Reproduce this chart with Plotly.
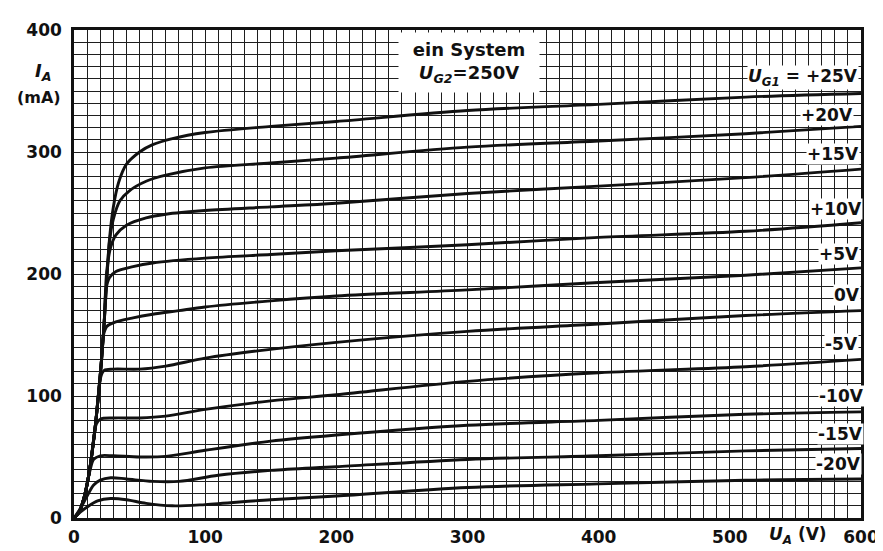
import plotly.graph_objects as go

# Grid voltages (labels) and anode characteristic curves: U_A (V) -> I_A (mA)
labels = ["U<sub>G1</sub> = +25V", "+20V", "+15V", "+10V", "+5V", "0V", "-5V", "-10V", "-15V", "-20V"]

ua_p25 = [0, 4, 8, 12, 16, 19, 21, 23, 25, 27, 30, 34, 40, 50, 60, 75, 100, 150, 200, 300, 400, 512, 600]
ia_p25 = [0, 5, 18, 40, 73, 105, 130, 160, 195, 228, 255, 275, 290, 300, 306, 311, 316, 321, 325, 334, 339, 345, 348]

ua_p20 = [0, 4, 8, 12, 16, 19, 21, 23, 25, 27, 30, 35, 42, 55, 70, 100, 150, 200, 300, 400, 512, 600]
ia_p20 = [0, 5, 18, 40, 73, 105, 130, 160, 195, 226, 245, 260, 268, 276, 281, 287, 291, 295, 304, 309, 315, 321]

ua_p15 = [0, 4, 8, 12, 16, 19, 21, 23, 25, 28, 32, 40, 55, 70, 100, 150, 200, 300, 400, 512, 600]
ia_p15 = [0, 5, 18, 40, 73, 105, 130, 160, 203, 222, 232, 240, 246, 249, 252, 255, 258, 266, 272, 279, 286]

ua_p10 = [0, 4, 8, 12, 16, 19, 21, 23, 24.5, 27, 32, 45, 60, 100, 150, 200, 300, 400, 512, 600]
ia_p10 = [0, 5, 18, 40, 73, 105, 130, 160, 188, 197, 202, 206, 209, 213, 216, 219, 224, 230, 235, 242]

ua_p5 = [0, 4, 8, 12, 16, 19, 21, 22.5, 25, 30, 45, 60, 80, 100, 150, 200, 300, 400, 512, 600]
ia_p5 = [0, 5, 18, 40, 73, 105, 130, 150, 157, 160, 164, 167, 170, 173, 178, 182, 187, 193, 199, 205]

ua_0 = [0, 4, 8, 12, 16, 19, 20.5, 23, 30, 50, 70, 100, 140, 200, 300, 400, 512, 600]
ia_0 = [0, 5, 18, 40, 73, 105, 116, 121, 122, 122, 124.5, 131, 137, 144, 153, 159, 166, 170]

ua_m5 = [0, 4, 8, 12, 15, 17, 20, 30, 50, 70, 100, 150, 200, 300, 400, 512, 600]
ia_m5 = [0, 5, 18, 40, 65, 77, 81, 82, 82, 83.5, 89, 96, 101, 112, 119, 124, 130]

ua_m10 = [0, 4, 8, 12, 15, 20, 30, 50, 70, 100, 150, 200, 300, 400, 512, 600]
ia_m10 = [0, 6, 18, 38, 48, 51, 51, 50, 50.5, 55.5, 63, 68, 76, 80, 85, 87]

ua_m15 = [0, 5, 10, 15, 20, 28, 40, 60, 80, 110, 150, 200, 300, 400, 512, 600]
ia_m15 = [0, 8, 18, 27, 31, 33, 32, 30, 30, 35, 39, 42, 48, 51, 55, 57]

ua_m20 = [0, 5, 10, 18, 28, 40, 55, 75, 100, 150, 200, 300, 400, 512, 600]
ia_m20 = [0, 5, 9, 14, 16, 15, 12, 10, 11, 15, 18, 25, 28, 31, 32]

curves = [
    (ua_p25, ia_p25), (ua_p20, ia_p20), (ua_p15, ia_p15), (ua_p10, ia_p10), (ua_p5, ia_p5),
    (ua_0, ia_0), (ua_m5, ia_m5), (ua_m10, ia_m10), (ua_m15, ia_m15), (ua_m20, ia_m20),
]

# label anchor positions in data units (U_A, I_A)
label_x = [556, 574, 579, 581, 583, 589, 585, 585, 584, 583]
label_y = [361, 330, 298, 253, 216, 183, 143, 100, 69, 44]

x_ticks = [0, 100, 200, 300, 400, 500, 600]
y_ticks = [0, 100, 200, 300, 400]

INK = "#111111"
FONT = "DejaVu Sans"

fig = go.Figure()
for (ua, ia), name in zip(curves, labels):
    fig.add_trace(go.Scatter(
        x=ua, y=ia, mode="lines", name=name,
        line=dict(color=INK, width=2.9, shape="spline", smoothing=0.9),
        hoverinfo="skip", showlegend=False,
    ))

annotations = []
for txt, lx, ly in zip(labels, label_x, label_y):
    if txt.startswith("U"):
        txt = "<i>U</i><sub><i>G1</i></sub> = +25V"
    annotations.append(dict(
        x=lx, y=ly, xref="x", yref="y", text=txt, showarrow=False,
        xanchor="center", yanchor="middle",
        font=dict(family=FONT, size=17, color=INK, weight="bold"),
        bgcolor="white", borderpad=0,
    ))

annotations.append(dict(
    x=301, y=373, xref="x", yref="y", xanchor="center", yanchor="middle",
    text="ein System<br><i>U</i><sub><i>G2</i></sub>=250V", showarrow=False,
    font=dict(family=FONT, size=18, color=INK, weight="bold"),
    bgcolor="white", borderpad=6, align="center", width=128,
))
annotations.append(dict(
    x=552, y=-0.036, xref="x", yref="paper", xanchor="center", yanchor="middle",
    text="<i>U</i><sub><i>A</i></sub> (V)",
    showarrow=False, font=dict(family=FONT, size=17, color=INK, weight="bold"),
))
annotations.append(dict(
    x=-0.039, y=0.914, xref="paper", yref="paper", xanchor="center", yanchor="middle",
    text="<i>I</i><sub><i>A</i></sub>",
    showarrow=False, font=dict(family=FONT, size=18, color=INK, weight="bold"),
))
annotations.append(dict(
    x=-0.045, y=0.861, xref="paper", yref="paper", xanchor="center", yanchor="middle",
    text="(mA)",
    showarrow=False, font=dict(family=FONT, size=16, color=INK, weight="bold"),
))

axis_common = dict(
    showline=True, linecolor=INK, linewidth=2.5, mirror=True,
    showgrid=True, gridcolor="#1e1e1e", gridwidth=1.4,
    zeroline=False, ticks="",
    tickfont=dict(family=FONT, size=17, color=INK, weight="bold"),
)

fig.update_layout(
    width=883, height=551,
    margin=dict(l=66, r=27, t=20, b=29),
    paper_bgcolor="white", plot_bgcolor="white",
    xaxis=dict(range=[0, 600], tickvals=x_ticks,
               minor=dict(dtick=10, showgrid=True, gridcolor="#1e1e1e", gridwidth=1.3),
               ticklabelstandoff=2, **axis_common),
    yaxis=dict(range=[0, 400], tickvals=y_ticks,
               minor=dict(dtick=10, showgrid=True, gridcolor="#1e1e1e", gridwidth=1.3),
               ticklabelstandoff=6, **axis_common),
    annotations=annotations,
)

fig.write_html("out.html")
